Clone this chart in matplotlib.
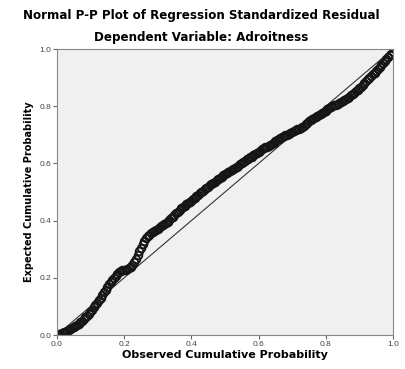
import matplotlib.pyplot as plt

# observed vs expected cumulative probability
observed = [0.000, 0.005, 0.010, 0.015, 0.020, 0.025, 0.030, 0.035, 0.040, 0.045,
            0.050, 0.055, 0.060, 0.065, 0.070, 0.075, 0.080, 0.085, 0.090, 0.095,
            0.100, 0.105, 0.110, 0.115, 0.120, 0.125, 0.130, 0.135, 0.140, 0.145,
            0.150, 0.155, 0.160, 0.165, 0.170, 0.175, 0.180, 0.185, 0.190, 0.195,
            0.200, 0.205, 0.210, 0.215, 0.220, 0.225, 0.230, 0.235, 0.240, 0.245,
            0.250, 0.255, 0.260, 0.265, 0.270, 0.275, 0.280, 0.285, 0.290, 0.295,
            0.300, 0.305, 0.310, 0.315, 0.320, 0.325, 0.330, 0.335, 0.340, 0.345,
            0.350, 0.355, 0.360, 0.365, 0.370, 0.375, 0.380, 0.385, 0.390, 0.395,
            0.400, 0.405, 0.410, 0.415, 0.420, 0.425, 0.430, 0.435, 0.440, 0.445,
            0.450, 0.455, 0.460, 0.465, 0.470, 0.475, 0.480, 0.485, 0.490, 0.495,
            0.500, 0.505, 0.510, 0.515, 0.520, 0.525, 0.530, 0.535, 0.540, 0.545,
            0.550, 0.555, 0.560, 0.565, 0.570, 0.575, 0.580, 0.585, 0.590, 0.595,
            0.600, 0.605, 0.610, 0.615, 0.620, 0.625, 0.630, 0.635, 0.640, 0.645,
            0.650, 0.655, 0.660, 0.665, 0.670, 0.675, 0.680, 0.685, 0.690, 0.695,
            0.700, 0.705, 0.710, 0.715, 0.720, 0.725, 0.730, 0.735, 0.740, 0.745,
            0.750, 0.755, 0.760, 0.765, 0.770, 0.775, 0.780, 0.785, 0.790, 0.795,
            0.800, 0.805, 0.810, 0.815, 0.820, 0.825, 0.830, 0.835, 0.840, 0.845,
            0.850, 0.855, 0.860, 0.865, 0.870, 0.875, 0.880, 0.885, 0.890, 0.895,
            0.900, 0.905, 0.910, 0.915, 0.920, 0.925, 0.930, 0.935, 0.940, 0.945,
            0.950, 0.955, 0.960, 0.965, 0.970, 0.975, 0.980, 0.985, 0.990, 0.995,
            1.000]
expected = [0.000, 0.002, 0.004, 0.007, 0.009, 0.011, 0.014, 0.017, 0.020, 0.023,
            0.027, 0.031, 0.035, 0.040, 0.045, 0.050, 0.056, 0.062, 0.068, 0.075,
            0.082, 0.089, 0.097, 0.105, 0.113, 0.122, 0.131, 0.141, 0.150, 0.159,
            0.168, 0.177, 0.185, 0.193, 0.200, 0.208, 0.214, 0.220, 0.224, 0.227,
            0.228, 0.229, 0.231, 0.234, 0.238, 0.245, 0.255, 0.267, 0.280, 0.293,
            0.305, 0.318, 0.330, 0.339, 0.346, 0.351, 0.356, 0.360, 0.364, 0.368,
            0.372, 0.376, 0.380, 0.384, 0.388, 0.392, 0.397, 0.402, 0.408, 0.414,
            0.420, 0.426, 0.432, 0.438, 0.443, 0.448, 0.452, 0.457, 0.461, 0.466,
            0.470, 0.475, 0.480, 0.485, 0.490, 0.495, 0.500, 0.505, 0.509, 0.514,
            0.518, 0.523, 0.527, 0.532, 0.536, 0.541, 0.545, 0.550, 0.554, 0.558,
            0.562, 0.566, 0.569, 0.573, 0.576, 0.580, 0.583, 0.588, 0.592, 0.597,
            0.601, 0.606, 0.610, 0.614, 0.617, 0.621, 0.624, 0.628, 0.632, 0.637,
            0.641, 0.645, 0.649, 0.653, 0.656, 0.659, 0.662, 0.666, 0.669, 0.673,
            0.677, 0.681, 0.685, 0.689, 0.692, 0.695, 0.698, 0.701, 0.704, 0.707,
            0.710, 0.713, 0.716, 0.719, 0.722, 0.725, 0.728, 0.732, 0.737, 0.742,
            0.747, 0.751, 0.755, 0.759, 0.762, 0.766, 0.769, 0.773, 0.777, 0.781,
            0.785, 0.789, 0.793, 0.797, 0.800, 0.803, 0.806, 0.809, 0.812, 0.815,
            0.818, 0.822, 0.826, 0.830, 0.834, 0.838, 0.842, 0.847, 0.852, 0.857,
            0.863, 0.869, 0.875, 0.881, 0.888, 0.894, 0.900, 0.906, 0.912, 0.918,
            0.925, 0.932, 0.939, 0.946, 0.953, 0.960, 0.966, 0.972, 0.978, 0.984,
            0.990]
ticks = [0.0, 0.2, 0.4, 0.6, 0.8, 1.0]

plt.rcParams['font.family'] = ['Liberation Sans', 'DejaVu Sans']

fig = plt.figure(figsize=(4.06, 3.69), dpi=100)
ax = fig.add_axes([0.140, 0.092, 0.828, 0.775])
ax.set_facecolor('#f0f0f0')

ax.plot([0, 1], [0, 1], color='#333333', lw=0.8)
ax.plot(observed, expected, 'o', ms=5.5, mfc='none', mec='#151515', mew=1.3)

ax.set_xlim(0, 1)
ax.set_ylim(0, 1)
ax.set_xticks(ticks)
ax.set_yticks(ticks)
ax.set_xticklabels([f"{t:.1f}" for t in ticks])
ax.set_yticklabels([f"{t:.1f}" for t in ticks])
ax.tick_params(direction='out', length=3, width=0.8, colors='#666666',
               labelsize=6, labelcolor='#444444', pad=1)
for s in ax.spines.values():
    s.set_color('#888888')
    s.set_linewidth(0.8)

ax.set_xlabel("Observed Cumulative Probability", fontsize=8, fontweight='bold',
              family='DejaVu Sans', labelpad=2)
ax.set_ylabel("Expected Cumulative Probability", fontsize=7, fontweight='bold',
              family='DejaVu Sans', labelpad=4)

fig.text(0.495, 0.958, "Normal P-P Plot of Regression Standardized Residual",
         ha='center', va='center', fontsize=8.6, fontweight='bold', family='DejaVu Sans')
fig.text(0.495, 0.898, "Dependent Variable: Adroitness",
         ha='center', va='center', fontsize=8.6, fontweight='bold', family='DejaVu Sans')

plt.savefig('out.png', dpi=100)
